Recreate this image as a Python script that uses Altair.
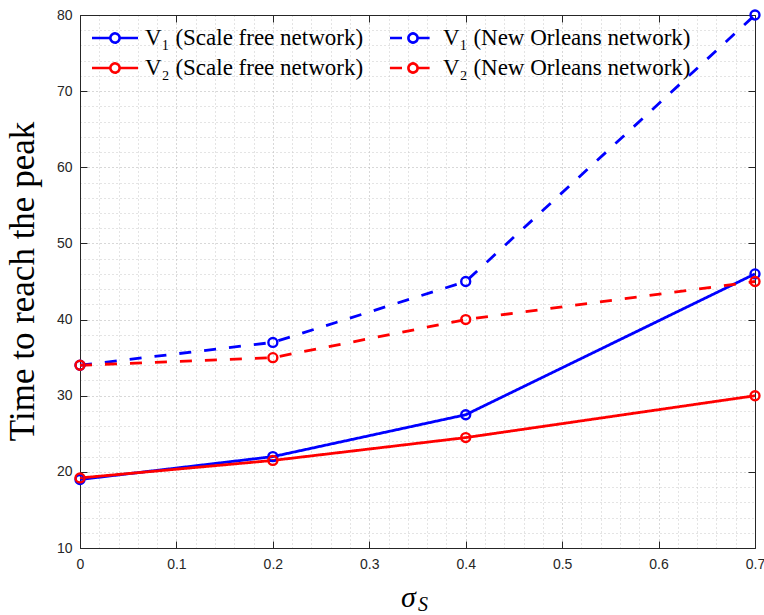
import altair as alt
import pandas as pd

# ---- data ----
sigma = [0, 0.2, 0.4, 0.7]
v1_sf = [19, 22, 27.5, 46]
v2_sf = [19.2, 21.5, 24.5, 30]
v1_no = [34, 37, 45, 80]
v2_no = [34, 35, 40, 45]

# legend fills column by column: column 1 = scale free, column 2 = New Orleans
series_names = [
    "V₁ (Scale free network)",
    "V₂ (Scale free network)",
    "V₁ (New Orleans network)",
    "V₂ (New Orleans network)",
]
series_values = [v1_sf, v2_sf, v1_no, v2_no]
series_colors = ["#0000ff", "#ff0000", "#0000ff", "#ff0000"]
series_dashes = [[1, 0], [1, 0], [12, 13], [12, 13]]

x_ticks = [round(i * 0.02, 2) for i in range(36)]
y_ticks = list(range(10, 81, 2))

rows = []
for name, vals in zip(series_names, series_values):
    for s, v in zip(sigma, vals):
        rows.append({"sigma": s, "value": v, "series": name})
df = pd.DataFrame(rows)

AX = "#262626"
major_x = "abs(datum.value*10 - round(datum.value*10)) < 1e-6"
major_y = "datum.value % 10 == 0"

# line - circle - line; circle drawn as three short arcs so a dash pattern keeps it whole
legend_symbol = ("M-2,0L-0.4,0M0.4,0L2,0"
                 "M-0.4,0A0.4,0.4,0,0,1,0.2,-0.3464"
                 "M0.2,-0.3464A0.4,0.4,0,0,1,0.2,0.3464"
                 "M0.2,0.3464A0.4,0.4,0,0,1,-0.4,0")

legend_props = dict(
    orient="none", legendX=22, legendY=10, columns=2,
    symbolType=legend_symbol, symbolSize=529, symbolStrokeWidth=2.6,
    symbolFillColor="transparent",
    labelFont="Liberation Serif", labelFontSize=23, labelColor="black",
    labelOffset=17, columnPadding=20, rowPadding=5, padding=0, labelLimit=500,
)
legend = alt.Legend(title=None, **legend_props)

color = alt.Color("series:N", scale=alt.Scale(domain=series_names, range=series_colors), legend=legend)
dash = alt.StrokeDash("series:N", scale=alt.Scale(domain=series_names, range=series_dashes), legend=legend)

x_scale = alt.Scale(domain=[0, 0.7], nice=False, zero=False)
y_scale = alt.Scale(domain=[10, 80], nice=False, zero=False)

x_main = alt.Axis(
    values=x_ticks, orient="bottom",
    labelExpr=f"{major_x} ? (datum.value == 0 ? '0' : format(datum.value, '.1f')) : ''",
    labelFlush=False, labelOverlap=False, labelFont="Liberation Sans", labelFontSize=14,
    labelColor=AX, labelPadding=16,
    grid=True, gridDash=[1, 3], gridWidth=1,
    gridColor={"condition": {"test": major_x, "value": "#b0b0b0"}, "value": "#c8c8c8"},
    tickSize=alt.ExprRef(expr="-7"), tickColor=AX, tickWidth=1,
    tickOpacity={"condition": {"test": major_x, "value": 1}, "value": 0},
    domainColor=AX, domainWidth=1,
    title="σ", titleFont="Liberation Serif", titleFontSize=30, titleFontStyle="italic",
    titleFontWeight="normal", titleColor="black",
    titleX=328, titleY=58, titleAlign="center", titleBaseline="alphabetic",
)
y_main = alt.Axis(
    values=y_ticks, orient="left",
    labelExpr=f"{major_y} ? format(datum.value, 'd') : ''",
    labelOverlap=False, labelFont="Liberation Sans", labelFontSize=14,
    labelColor=AX, labelPadding=15,
    grid=True, gridDash=[1, 3], gridWidth=1,
    gridColor={"condition": {"test": major_y, "value": "#b0b0b0"}, "value": "#c8c8c8"},
    tickSize=alt.ExprRef(expr="-7"), tickColor=AX, tickWidth=1,
    tickOpacity={"condition": {"test": major_y, "value": 1}, "value": 0},
    domainColor=AX, domainWidth=1,
    title="Time to reach the peak", titleFont="Liberation Serif", titleFontSize=35,
    titleFontWeight="normal", titleColor="black", titleAngle=270,
    titleX=-47, titleY=266, titleAlign="center", titleBaseline="alphabetic",
)
x_top = alt.Axis(
    values=x_ticks, orient="top", labels=False, grid=False, title=None,
    tickSize=alt.ExprRef(expr="-7"), tickColor=AX, tickWidth=1,
    tickOpacity={"condition": {"test": major_x, "value": 1}, "value": 0},
    domainColor=AX, domainWidth=1,
)
y_right = alt.Axis(
    values=y_ticks, orient="right", labels=False, grid=False, title=None,
    tickSize=alt.ExprRef(expr="-7"), tickColor=AX, tickWidth=1,
    tickOpacity={"condition": {"test": major_y, "value": 1}, "value": 0},
    domainColor=AX, domainWidth=1,
)

lines = alt.Chart(df).mark_line(strokeWidth=2.8).encode(
    x=alt.X("sigma:Q", scale=x_scale, axis=x_main),
    y=alt.Y("value:Q", scale=y_scale, axis=y_main),
    color=color,
    strokeDash=dash,
    detail="series:N",
)

points = alt.Chart(df).mark_point(filled=False, shape="circle", size=80, strokeWidth=2.4, opacity=1).encode(
    x=alt.X("sigma:Q", scale=x_scale, axis=x_top),
    y=alt.Y("value:Q", scale=y_scale, axis=y_right),
    color=color,
)

sub = alt.Chart(pd.DataFrame({"t": ["S"]})).mark_text(
    font="Liberation Serif", fontSize=20, fontStyle="italic", align="left",
    baseline="alphabetic", color="black",
).encode(text="t:N", x=alt.value(338), y=alt.value(596))

chart = alt.layer(lines, points, sub).resolve_axis(
    x="independent", y="independent"
).properties(
    width=675, height=533,
    padding={"left": 80, "top": 15, "right": 9, "bottom": 67},
    autosize=alt.AutoSizeParams(type="none"),
    background="white",
).configure_view(stroke=None).configure_legend(**legend_props)

chart.save("out.html", embed_options={"renderer": "svg", "actions": False})
